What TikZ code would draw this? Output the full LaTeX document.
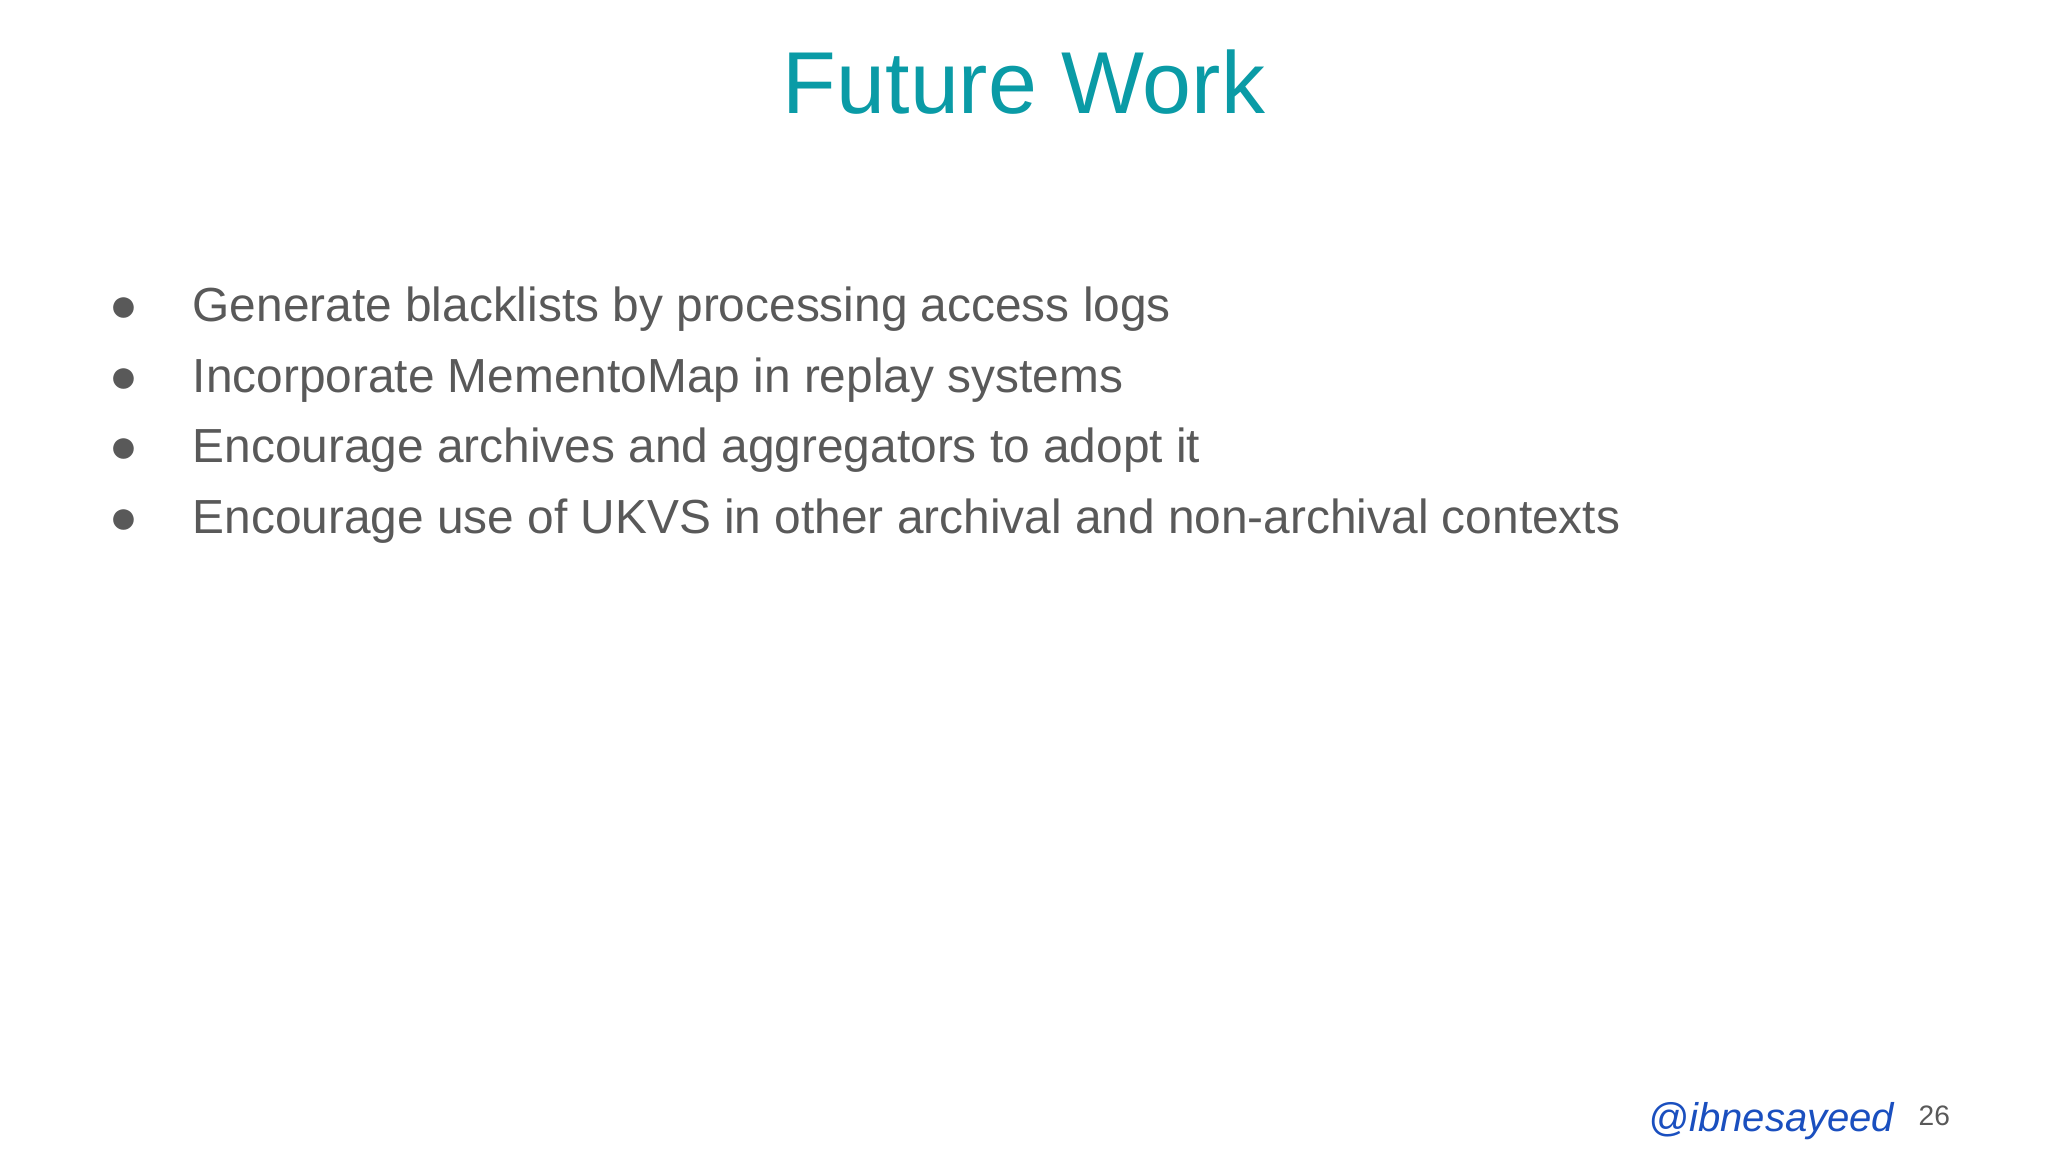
\documentclass[tikz,border=0pt]{standalone}
\usepackage{fontspec}
\setmainfont{Liberation Sans}
\definecolor{teal1}{HTML}{0A9BA6}
\definecolor{txt}{HTML}{595959}
\definecolor{handle}{HTML}{1A4FBF}
\begin{document}
\begin{tikzpicture}[x=0.01cm,y=-0.01cm,
  bul/.style={anchor=base west,text=txt,font=\fontsize{13.6}{16}\selectfont,inner sep=0},
  dot/.style={anchor=base,text=txt,font=\fontsize{13.6}{16}\selectfont,inner sep=0}]
\useasboundingbox[fill=white] (0,0) rectangle (2048,1152);
\node[anchor=base,text=teal1,font=\fontsize{25}{30}\selectfont,inner sep=0] (title) at (1024,114) {Future Work};
\foreach \t [count=\i] in {Generate blacklists by processing access logs,Incorporate MementoMap in replay systems,Encourage archives and aggregators to adopt it,Encourage use of UKVS in other archival and non-archival contexts}{
  \node[dot] (d\i) at (124,{310+(\i-1)*70.5+12}) {●};
  \node[bul] (b\i) at (192,{310+(\i-1)*70.5+12}) {\t};
}
\node[anchor=base east,text=handle,font=\fontsize{11.4}{14}\itshape\selectfont,inner sep=0] (h) at (1895,1131) {@ibnesayeed};
\node[anchor=base west,text=txt,font=\fontsize{8}{10}\selectfont,inner sep=0] (n) at (1918,1125) {26};
\end{tikzpicture}
\end{document}
